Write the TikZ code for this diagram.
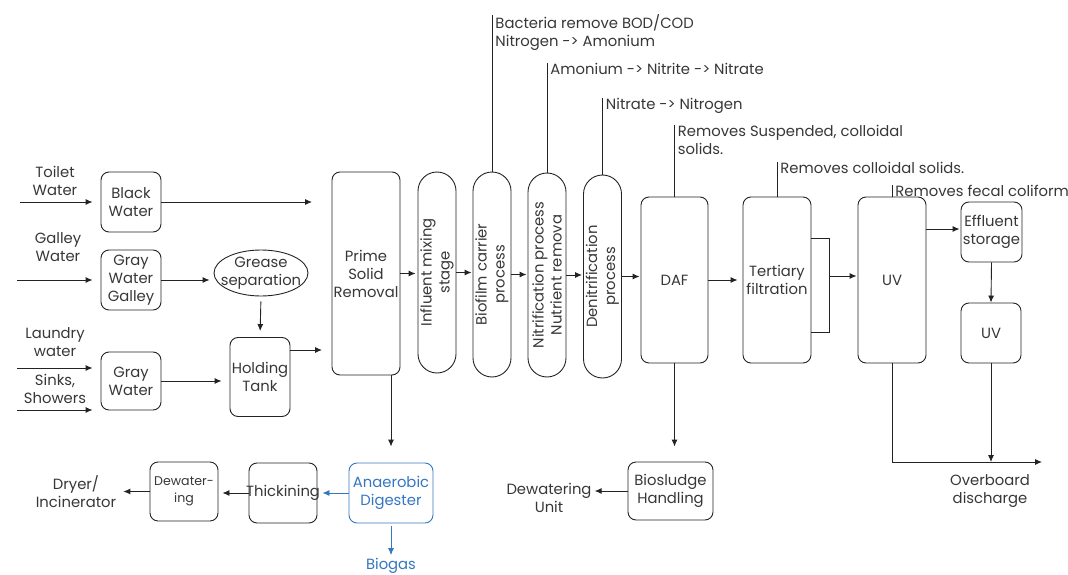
\documentclass[tikz,border=0pt]{standalone}
\usepackage{fontspec}
\setmainfont{Poppins}
\usetikzlibrary{shapes.geometric,arrows.meta}
\definecolor{linegray}{RGB}{35,35,35}
\definecolor{textgray}{RGB}{55,55,55}
\definecolor{digblue}{RGB}{52,118,192}

\begin{document}
\begin{tikzpicture}[x=1pt, y=-1pt,
		font=\fontsize{14.8}{18}\selectfont,
		every node/.style={text=textgray, align=center, inner sep=1pt},
		>={Latex[length=7pt,width=6pt]},
		box/.style={draw=linegray, line width=0.9pt, rounded corners=8pt, minimum width=60pt, minimum height=60pt},
		pill/.style={draw=linegray, line width=0.9pt, rounded corners=19pt, rotate=90, minimum height=38pt},
		flow/.style={draw=linegray, line width=0.9pt, ->},
		tag/.style={draw=linegray, line width=0.9pt},
		note/.style={anchor=north west, align=left, xshift=3pt, inner sep=0pt}
		]
	\useasboundingbox (0,0) rectangle (1068,575);

	% sources
	\node (toilet) at (55,181) {Toilet\\Water};
	\node (galley) at (58,247) {Galley\\Water};
	\node (laundry) at (55,342) {Laundry\\water};
	\node (sinks) at (55,389) {Sinks,\\Showers};
	\coordinate (toiletin) at (20,202);
	\coordinate (galleyin) at (17,280);
	\coordinate (laundryin) at (17,368);
	\coordinate (sinksin) at (17,410);

	% collection
	\node[box] (black) at (131,202) {Black\\Water};
	\node[box] (graygal) at (131,280) {Gray\\Water\\Galley};
	\node[box, minimum height=58pt] (gray) at (131,381) {Gray\\Water};
	\node[draw=linegray, line width=0.9pt, ellipse, minimum width=94pt, minimum height=46pt, inner xsep=0pt, inner ysep=-5pt] (grease) at (261,273) {Grease\\\makebox[50pt]{separation}};
	\node[box, minimum height=79pt] (tank) at (260,377) {Holding\\Tank};
	\coordinate (blackout) at (312,202);
	\coordinate (tankout) at (322,350);

	% treatment line
	\node[box, minimum width=68pt, minimum height=203pt] (prime) at (366,273.5) {Prime\\Solid\\Removal};
	\node[pill, minimum width=201pt] (mixing) at (437,272.5) {Influent mixing\\stage};
	\node[pill, minimum width=205pt] (biofilm) at (492,274.5) {Biofilm carrier\\process};
	\node[pill, minimum width=204pt] (nitri) at (547,275) {Nitrification process\\Nutrient remova};
	\node[pill, minimum width=203pt] (denitri) at (602.5,276.5) {Denitrification\\process};
	\node[box, minimum width=67pt, minimum height=166pt] (daf) at (674.5,280) {DAF};
	\node[box, minimum width=68pt, minimum height=166pt] (tertiary) at (777,280) {Tertiary\\filtration};
	\node[box, minimum width=68pt, minimum height=166pt] (uv) at (892,280) {UV};
	\node[box, minimum width=61pt] (storage) at (991.5,232) {Effluent\\storage};
	\node[box] (uvtwo) at (991,333) {UV};
	\coordinate (filt) at (829,276);
	\coordinate (overb) at (1042,462);
	\node (overboard) at (990,491) {Overboard\\discharge};

	% sludge line
	\node[box, minimum width=85pt, minimum height=58pt] (sludge) at (670.5,491) {Biosludge\\Handling};
	\node (unit) at (549,498) {Dewatering\\Unit};
	\node[box, draw=digblue, text=digblue, minimum width=84pt] (digester) at (391,493) {Anaerobic\\Digester};
	\node[text=digblue] (biogas) at (391,566) {Biogas};
	\node[box, minimum width=68pt] (thick) at (283,493) {\makebox[60pt]{Thickining}};
	\node[box, minimum width=68pt, minimum height=59pt, font=\fontsize{12.6}{17}\selectfont] (dewater) at (184,491.5) {Dewater-\\ing};
	\node (dryer) at (76,492) {Dryer/\\Incinerator};

	% inflows
	\draw[flow, shorten >=8pt] (toiletin) -- (black.west);
	\draw[flow, shorten >=8pt] (galleyin) -- (graygal.west);
	\draw[flow, shorten >=8pt] (laundryin) -- (laundryin -| gray.west);
	\draw[flow, shorten >=8pt] (sinksin) -- (sinksin -| gray.west);
	\draw[flow] (black.east) -- (blackout);
	\draw[flow, shorten >=4pt] (graygal.east) -- (graygal.east -| grease.west);
	\draw[flow, shorten <=5pt, shorten >=6pt] (grease.south) -- (tank.north);
	\draw[flow, shorten >=8pt] (gray.east) -- (gray.east -| tank.west);
	\draw[flow] (tank.east |- tankout) -- (tankout);

	% main flow
	\draw[flow, shorten >=2pt] (prime.east) -- (prime.east -| mixing.north);
	\draw[flow, shorten >=1pt] (mixing.south) -- (mixing.south -| biofilm.north);
	\draw[flow, shorten >=1pt] (biofilm.south) -- (biofilm.south -| nitri.north);
	\draw[flow, shorten >=1pt] (nitri.south) -- (nitri.south -| denitri.north);
	\draw[flow, shorten >=1pt] (denitri.south) -- (denitri.south -| daf.west);
	\draw[flow, shorten >=5pt] (daf.east) -- (daf.east -| tertiary.west);
	\draw[tag] (tertiary.east |- 0,238) -- (filt |- 0,238) -- (filt |- 0,332) -- (tertiary.east |- 0,332);
	\draw[flow, shorten >=1pt] (filt) -- (filt -| uv.west);
	\draw[flow, shorten >=1pt] (uv.east |- 0,229) -- (storage.west |- 0,229);
	\draw[flow] (storage.south) -- (uvtwo.north);
	\draw[flow] (uv.south) |- (overb);
	\draw[flow] (uvtwo.south) -- (uvtwo.south |- overb);

	% sludge flow
	\draw[flow, shorten >=16pt] (prime.south -| digester) -- (digester.north);
	\draw[flow, shorten >=15pt] (daf.south) -- (daf.south |- sludge.north);
	\draw[flow, shorten >=2pt] (sludge.west) -- (sludge.west -| unit.east);
	\draw[flow, digblue, shorten >=5pt] (digester.west) -- (thick.east);
	\draw[flow, digblue, shorten <=3pt, shorten >=2pt] (digester.south) -- (biogas.north);
	\draw[flow, shorten >=4pt] (thick.west) -- (thick.west -| dewater.east);
	\draw[flow, shorten >=6pt] (dewater.west) -- (dewater.west -| dryer.east);

	% process notes
	\draw[tag] (biofilm.east) -- ++(0,-157) node[note] (bodnote) {Bacteria remove BOD/COD\\Nitrogen -> Amonium};
	\draw[tag] (nitri.east) -- ++(0,-110) node[note] (nitrnote) {Amonium -> Nitrite -> Nitrate};
	\draw[tag] (denitri.east) -- ++(0,-77) node[note] (denitnote) {Nitrate -> Nitrogen};
	\draw[tag] (daf.north) -- ++(0,-72) node[note] (dafnote) {Removes Suspended, colloidal\\solids.};
	\draw[tag] (tertiary.north) -- ++(0,-35) node[note] (filtnote) {Removes colloidal solids.};
	\draw[tag] (uv.north) -- ++(0,-12) node[note] (uvnote) {Removes fecal coliform};
\end{tikzpicture}
\end{document}
